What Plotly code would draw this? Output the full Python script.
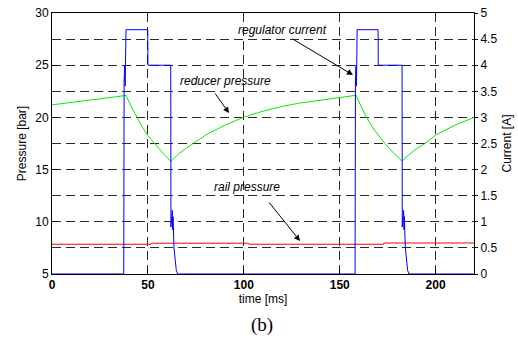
import plotly.graph_objects as go

# ---- data ----
# reducer pressure [bar]
t_reducer = [0, 10, 20, 30, 38.6, 41, 44, 47, 50, 54, 58, 61.9, 66, 70, 73.7, 80, 90, 99.7,
             110, 120, 128.4, 140, 149.3, 158.6, 161, 164, 168, 173.6, 178, 182.4, 186, 190,
             194.5, 200, 210, 220]
p_reducer = [21.2, 21.45, 21.7, 21.95, 22.1, 21.15, 20.1, 19.1, 18.25, 17.35, 16.55, 15.8,
             16.5, 17.05, 17.5, 18.3, 19.25, 20.0, 20.6, 21.05, 21.35, 21.65, 21.95, 22.12,
             21.1, 20.0, 18.8, 17.5, 16.6, 15.82, 16.4, 17.0, 17.5, 18.3, 19.25, 20.0]

# rail pressure [bar]
t_rail = [0, 51.6, 51.8, 102.5, 102.7, 172.8, 173.0, 220]
p_rail = [7.85, 7.85, 7.95, 7.95, 7.85, 7.85, 7.97, 7.97]

# regulator current [A]
t_current = [0, 37.4, 37.6, 37.9, 38.1, 38.6, 49.9, 50.0, 61.9, 62.0, 62.7, 62.9, 63.1, 63.6,
             64.2, 64.8, 65.5, 158.0, 158.2, 158.5, 158.7, 159.1, 170.0, 170.1, 182.5, 182.6,
             183.3, 183.5, 183.7, 184.2, 184.8, 185.4, 186.1, 220]
i_current = [0, 0, 3.7, 4.0, 3.6, 4.68, 4.68, 4.0, 4.0, 0.9, 1.22, 0.85, 1.1, 0.5, 0.2, 0.07,
             0, 0, 3.7, 4.0, 3.6, 4.68, 4.68, 4.0, 4.0, 0.9, 1.22, 0.85, 1.1, 0.5, 0.2, 0.07,
             0, 0]

x_ticks = [0, 50, 100, 150, 200]
p_ticks = [5, 10, 15, 20, 25, 30]
i_ticks = [0, 0.5, 1, 1.5, 2, 2.5, 3, 3.5, 4, 4.5, 5]
i_tick_text = ["0", "0.5", "1", "1.5", "2", "2.5", "3", "3.5", "4", "4.5", "5"]

FONT = "Arial, Liberation Sans, sans-serif"
GRID = "#2a2a2a"

fig = go.Figure()
fig.add_trace(go.Scatter(x=t_reducer, y=p_reducer, mode="lines", name="reducer pressure",
                         line=dict(color="#00ee00", width=1), yaxis="y"))
fig.add_trace(go.Scatter(x=t_rail, y=p_rail, mode="lines", name="rail pressure",
                         line=dict(color="#ff0000", width=1), yaxis="y"))
fig.add_trace(go.Scatter(x=t_current, y=i_current, mode="lines", name="regulator current",
                         line=dict(color="#0000ff", width=1), yaxis="y2", cliponaxis=False))

fig.update_layout(
    width=518, height=338,
    margin=dict(l=52, r=44, t=13, b=64, autoexpand=False),
    paper_bgcolor="white", plot_bgcolor="white",
    showlegend=False,
    font=dict(family=FONT, size=12, color="black"),
    xaxis=dict(range=[0, 220], tickvals=x_ticks, ticks="inside", ticklen=5,
               tickcolor="black", showline=True, linecolor="black", linewidth=1,
               mirror=True, showgrid=True, gridcolor=GRID, griddash="9px,5px",
               gridwidth=1, zeroline=False, automargin=False,
               tickfont=dict(family=FONT, size=12, weight="bold"),
               title=dict(text="time [ms]", font=dict(family=FONT, size=12), standoff=1)),
    yaxis=dict(range=[5, 30], tickvals=p_ticks, ticks="inside", ticklen=5,
               tickcolor="black", showline=True, linecolor="black", linewidth=1,
               showgrid=False, zeroline=False, automargin=False,
               tickfont=dict(family=FONT, size=12),
               title=dict(text="Pressure [bar]", font=dict(family=FONT, size=12), standoff=6)),
    yaxis2=dict(range=[0, 5], tickvals=i_ticks, ticktext=i_tick_text, overlaying="y",
                side="right", ticks="outside", ticklen=3, tickcolor="black",
                showline=True, linecolor="black", linewidth=1, automargin=False,
                showgrid=True, gridcolor=GRID, griddash="9px,5px", gridwidth=1,
                zeroline=False, tickfont=dict(family=FONT, size=12),
                title=dict(text="Current [A]", font=dict(family=FONT, size=12), standoff=6)),
)

ann_font = dict(family=FONT, size=12, color="black", style="italic")
# labels
fig.add_annotation(x=120.0, y=28.37, xref="x", yref="y", text="regulator current",
                   showarrow=False, font=ann_font)
fig.add_annotation(x=90.7, y=23.49, xref="x", yref="y", text="reducer pressure",
                   showarrow=False, font=ann_font)
fig.add_annotation(x=101.7, y=13.33, xref="x", yref="y", text="rail pressure",
                   showarrow=False, font=ann_font)
# arrows
for hx, hy, ax, ay in [(156.9, 24.06, -62, -37), (92.3, 20.42, -15, -21), (129.3, 8.16, -32, -40)]:
    fig.add_annotation(x=hx, y=hy, xref="x", yref="y", text="", showarrow=True,
                       ax=ax, ay=ay, arrowhead=2, arrowsize=1.2, arrowwidth=1,
                       arrowcolor="black")

fig.add_annotation(x=0.4976, y=-0.195, xref="paper", yref="paper", text="(b)",
                   showarrow=False, yanchor="middle",
                   font=dict(family="Times New Roman, Liberation Serif, serif", size=19,
                             color="black"))

fig.write_html("out.html", config={"displayModeBar": False},
               post_script="document.body.style.margin='0';document.body.style.padding='0';")
